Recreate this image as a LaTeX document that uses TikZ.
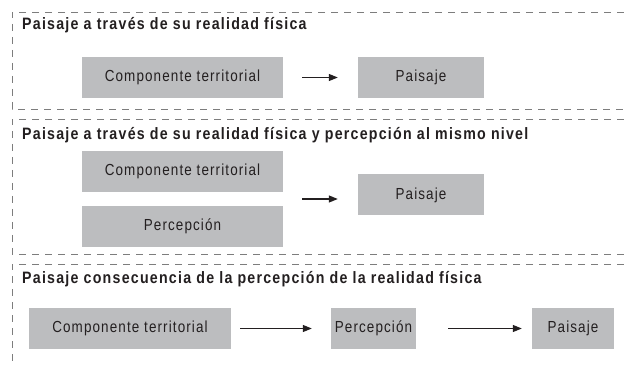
\documentclass[tikz,border=0pt]{standalone}
\usepackage{fontspec}
\setmainfont{Liberation Sans}[FakeStretch=0.84,LetterSpace=7]
\newfontfamily\headfont{Liberation Sans}[FakeStretch=0.86,LetterSpace=7.5]
\usepackage{xcolor}
\usetikzlibrary{calc, arrows.meta}

\definecolor{boxgray}{RGB}{188,189,191}
\definecolor{framegray}{RGB}{125,125,125}
\definecolor{ink}{RGB}{35,31,32}

\tikzset{
	frame/.style = {framegray, line width=0.9pt, dash pattern=on 7pt off 6pt},
	box/.style = {fill=boxgray, text=ink, minimum height=41pt, inner sep=0pt, font=\fontsize{16}{18}\selectfont},
	heading/.style = {anchor=west, inner sep=0pt, text=ink, font=\headfont\bfseries\fontsize{16.5}{18}\selectfont},
	flow/.style = {-{Triangle[length=9pt,width=7pt]}, line width=1.2pt, ink},
}

\begin{document}
\begin{tikzpicture}[x=1pt, y=-1pt]
	\useasboundingbox (0,0) rectangle (624,366);

	% realidad fisica
	\draw[frame] (624,12) -- (12,12) -- (12,109) -- (624,109);
	\node[heading] (title1) at (22,25) {Paisaje a través de su realidad física};
	\node[box, minimum width=201pt] (ct1) at (182.5,77.5) {Componente territorial};
	\node[box, minimum width=126pt] (pai1) at (421,77.5) {Paisaje};
	\draw[flow, shorten <=19pt, shorten >=20pt] (ct1) -- (pai1);

	% mismo nivel
	\draw[frame] (624,119) -- (12,119) -- (12,254) -- (624,254);
	\node[heading] (title2) at (22,135) {Paisaje a través de su realidad física y percepción al mismo nivel};
	\node[box, minimum width=201pt] (ct2) at (182.5,171.5) {Componente territorial};
	\node[box, minimum width=201pt] (per2) at (182.5,226.5) {Percepción};
	\node[box, minimum width=126pt] (pai2) at (421,195) {Paisaje};
	\coordinate (join2) at ($(ct2.south east)!0.5!(per2.north east)$);
	\draw[flow, shorten <=19pt, shorten >=20pt] (join2) -- (join2 -| pai2.west);

	% consecuencia
	\draw[frame] (624,264) -- (12,264) -- (12,366);
	\node[heading] (title3) at (22,279) {Paisaje consecuencia de la percepción de la realidad física};
	\node[box, minimum width=202pt] (ct3) at (130,328.5) {Componente territorial};
	\node[box, minimum width=85pt] (per3) at (373.5,328.5) {Percepción};
	\node[box, minimum width=82pt] (pai3) at (573,328.5) {Paisaje};
	\draw[flow, shorten <=9pt, shorten >=19pt] (ct3) -- (per3);
	\draw[flow, shorten <=32pt, shorten >=10pt] (per3) -- (pai3);
\end{tikzpicture}
\end{document}
